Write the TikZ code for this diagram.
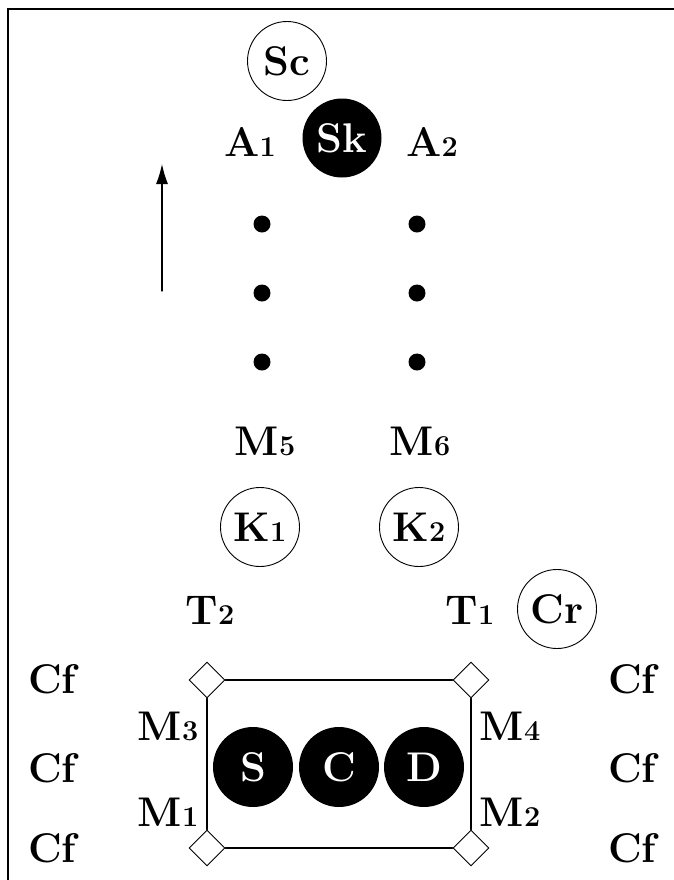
\documentclass[tikz,border=0pt]{standalone}
\usepackage{amssymb, amsmath}
\usepackage{tikz}
\usetikzlibrary{shapes.geometric,arrows.meta}

\newcommand{\sublab}[2]{#1{\Large #2}}

\begin{document}
\begin{tikzpicture}[x=0.5pt,y=-0.5pt,cap=round,
  every node/.style={font=\huge\bfseries},
  ring/.style={circle,draw,line width=0.45pt,inner sep=0pt,minimum size=39.5pt},
  blob/.style={circle,fill=black,text=white,inner sep=0pt,minimum size=39.5pt},
  pt/.style={circle,fill=black,inner sep=0pt,minimum size=8.5pt},
  corner/.style={diamond,draw,fill=white,line width=0.45pt,inner sep=0pt,minimum size=18pt}]
\useasboundingbox (0,0) rectangle (674,880);
\draw[line width=1pt] (8,880) -- (8,9) -- (674,9);

\node[ring] (sc) at (287,61) {Sc};
\node[blob] (sk) at (342,138) {Sk};
\node (a1) at (250,142) {\sublab{A}{1}};
\node (a2) at (432,142) {\sublab{A}{2}};

\node[pt] (l1) at (262,224) {};
\node[pt] (l2) at (262,293) {};
\node[pt] (l3) at (262,362) {};
\node[pt] (r1) at (417,224) {};
\node[pt] (r2) at (417,293) {};
\node[pt] (r3) at (417,362) {};

\node (m5) at (265,441) {\sublab{M}{5}};
\node (m6) at (420,441) {\sublab{M}{6}};

\node[ring] (k1) at (260,527) {\sublab{K}{1}};
\node[ring] (k2) at (419,527) {\sublab{K}{2}};

\node (t2) at (210,610) {\sublab{T}{2}};
\node (t1) at (470,610) {\sublab{T}{1}};
\node[ring] (cr) at (557,609) {Cr};

\node (cfl1) at (52,679) {Cf};
\node (cfl2) at (52,768) {Cf};
\node (cfl3) at (52,848) {Cf};
\node (cfr1) at (632,679) {Cf};
\node (cfr2) at (632,768) {Cf};
\node (cfr3) at (632,848) {Cf};

\node[corner] (c3) at (207,680) {};
\node[corner] (c4) at (471,680) {};
\node[corner] (c1) at (207,848) {};
\node[corner] (c2) at (471,848) {};
\draw[line width=0.6pt] (c3) -- (c4) -- (c2) -- (c1) -- (c3);

\node (m3) at (168,726) {\sublab{M}{3}};
\node (m1) at (168,812) {\sublab{M}{1}};
\node (m4) at (510,726) {\sublab{M}{4}};
\node (m2) at (510,812) {\sublab{M}{2}};

\node[blob,minimum size=40pt] (s) at (253,767) {S};
\node[blob,minimum size=40pt] (c) at (339,767) {C};
\node[blob,minimum size=40pt] (d) at (424,767) {D};

%arrow
\coordinate (arrs) at (162,291);
\coordinate (arre) at (162,164);
\draw[line width=0.6pt,-{Latex[length=10pt,width=6pt]}] (arrs) -- (arre);

\end{tikzpicture}
\end{document}
